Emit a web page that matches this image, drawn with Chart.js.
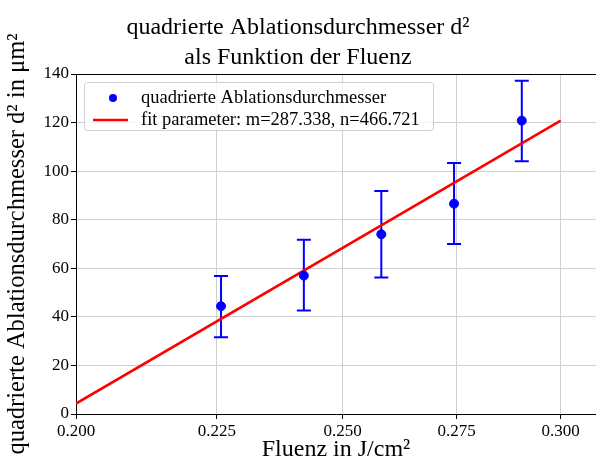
<!DOCTYPE html>
<html>
<head>
<meta charset="utf-8">
<script src="https://cdn.jsdelivr.net/npm/chart.js@4/dist/chart.umd.min.js"></script>
<style>
  html, body { margin: 0; padding: 0; background: #fff; }
  #wrap { width: 596px; height: 464px; }
</style>
</head>
<body>
<div id="wrap"><canvas id="chart"></canvas></div>
<script>
// Messwerte
const fluence = [0.2258, 0.2420, 0.2582, 0.2744, 0.2904];
const d2 = [44.4, 57.0, 74.0, 86.6, 120.8];
const d2Low = [31.6, 42.6, 56.2, 70.0, 104.1];
const d2High = [56.8, 71.8, 91.8, 103.4, 137.2];

// Fit (Endpunkte der Geraden)
const fitX = [0.2, 0.3];
const fitY = [4.3, 120.8];

const xTicks = [0.200, 0.225, 0.250, 0.275, 0.300];
const yTicks = [0, 20, 40, 60, 80, 100, 120, 140];

const SERIF = "'Liberation Serif', 'DejaVu Serif', serif";
const GRID = '#cfcfcf';

const errorBars = {
    id: 'errorBars',
    beforeDatasetsDraw(chart) {
        const { ctx, scales: { x, y } } = chart;
        ctx.save();
        ctx.strokeStyle = '#0000ff';
        ctx.lineWidth = 2;
        fluence.forEach((f, i) => {
            const px = x.getPixelForValue(f);
            const top = y.getPixelForValue(d2High[i]);
            const bot = y.getPixelForValue(d2Low[i]);
            ctx.beginPath();
            ctx.moveTo(px, top);
            ctx.lineTo(px, bot);
            ctx.moveTo(px - 7, top);
            ctx.lineTo(px + 7, top);
            ctx.moveTo(px - 7, bot);
            ctx.lineTo(px + 7, bot);
            ctx.stroke();
        });
        ctx.restore();
    }
};

// obere Achsenlinie + Legende im Plotbereich
const frameAndLegend = {
    id: 'frameAndLegend',
    afterDraw(chart) {
        const { ctx, chartArea } = chart;
        ctx.save();
        ctx.strokeStyle = '#000';
        ctx.lineWidth = 1;
        ctx.beginPath();
        ctx.moveTo(chartArea.left, chartArea.top + 0.5);
        ctx.lineTo(chartArea.right, chartArea.top + 0.5);
        ctx.stroke();

        const bx = chartArea.left + 8, by = chartArea.top + 8;
        const bw = 349, bh = 48;
        ctx.fillStyle = 'rgba(255,255,255,0.8)';
        ctx.strokeStyle = '#d0d0d0';
        ctx.beginPath();
        ctx.roundRect(bx + 0.5, by + 0.5, bw, bh, 3);
        ctx.fill();
        ctx.stroke();

        const ds = chart.data.datasets;
        ctx.font = `18.5px ${SERIF}`;
        ctx.textBaseline = 'middle';

        // Eintrag 1: Punkte
        ctx.fillStyle = ds[0].backgroundColor;
        ctx.beginPath();
        ctx.arc(bx + 29, by + 16, 4, 0, Math.PI * 2);
        ctx.fill();
        ctx.fillStyle = '#000';
        ctx.fillText(ds[0].label, bx + 57, by + 16);

        // Eintrag 2: Gerade
        ctx.strokeStyle = ds[1].borderColor;
        ctx.lineWidth = 2.5;
        ctx.beginPath();
        ctx.moveTo(bx + 9, by + 38);
        ctx.lineTo(bx + 44, by + 38);
        ctx.stroke();
        ctx.fillText(ds[1].label, bx + 57, by + 38);
        ctx.restore();
    }
};

new Chart(document.getElementById('chart'), {
    type: 'scatter',
    data: {
        datasets: [{
            label: 'quadrierte Ablationsdurchmesser',
            data: fluence.map((f, i) => ({ x: f, y: d2[i] })),
            backgroundColor: '#0000ff',
            borderColor: '#0000ff',
            pointRadius: 4.5,
            pointHoverRadius: 4.5
        }, {
            label: 'fit parameter: m=287.338, n=466.721',
            data: fitX.map((f, i) => ({ x: f, y: fitY[i] })),
            showLine: true,
            borderColor: '#ff0000',
            backgroundColor: '#ff0000',
            borderWidth: 2.5,
            pointRadius: 0
        }]
    },
    options: {
        responsive: true,
        maintainAspectRatio: false,
        animation: false,
        layout: { autoPadding: false, padding: { left: 0, right: 0, top: 0, bottom: 0 } },
        plugins: {
            legend: { display: false },
            tooltip: { enabled: false },
            title: {
                display: true,
                text: ['quadrierte Ablationsdurchmesser d²', 'als Funktion der Fluenz'],
                color: '#000',
                font: { family: SERIF, size: 24, weight: 'normal', lineHeight: 1.25 },
                padding: { top: 13, bottom: 1 }
            }
        },
        scales: {
            x: {
                type: 'logarithmic',
                min: 0.2,
                max: 0.309,
                afterBuildTicks: (scale) => {
                    scale.ticks = xTicks.map(v => ({ value: v }));
                },
                afterFit: (scale) => { scale.height = 50; },
                ticks: {
                    color: '#000',
                    font: { family: SERIF, size: 17 },
                    padding: 2,
                    maxRotation: 0,
                    autoSkip: false,
                    callback: (v) => Number(v).toFixed(3)
                },
                grid: { color: GRID, tickColor: '#000', tickLength: 5 },
                border: { color: '#000', width: 1 },
                title: {
                    display: true,
                    text: 'Fluenz in J/cm²',
                    color: '#000',
                    font: { family: SERIF, size: 24 },
                    padding: { top: 0, bottom: 0 }
                }
            },
            y: {
                min: 0,
                max: 140,
                afterBuildTicks: (scale) => {
                    scale.ticks = yTicks.map(v => ({ value: v }));
                },
                afterFit: (scale) => { scale.width = 76; },
                ticks: {
                    color: '#000',
                    font: { family: SERIF, size: 17 },
                    padding: 2
                },
                grid: { color: GRID, tickColor: '#000', tickLength: 5 },
                border: { color: '#000', width: 1 },
                title: {
                    display: true,
                    text: 'quadrierte Ablationsdurchmesser d² in μm²',
                    color: '#000',
                    font: { family: SERIF, size: 24.5 },
                    padding: { top: 3, bottom: 0 }
                }
            }
        }
    },
    plugins: [errorBars, frameAndLegend]
});
</script>
</body>
</html>
